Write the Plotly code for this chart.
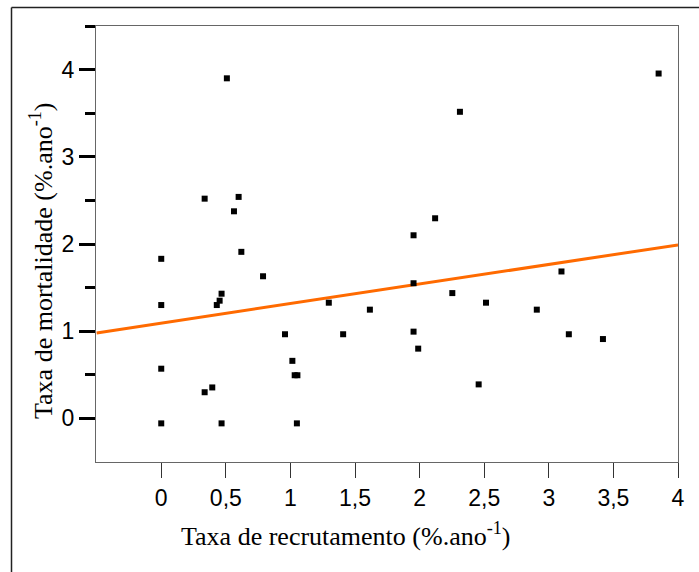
import plotly.graph_objects as go

# Data
recrutamento = [0, 0, 0, 0, 0.336, 0.336, 0.395, 0.43, 0.452, 0.467, 0.467, 0.508,
                0.563, 0.599, 0.62, 0.788, 0.958, 1.015, 1.033, 1.054, 1.05, 1.297,
                1.408, 1.615, 1.953, 1.953, 1.953, 1.989, 2.12, 2.253, 2.312, 2.457,
                2.514, 2.907, 3.098, 3.155, 3.419, 3.85]
mortalidade = [1.83, 1.30, 0.57, -0.057, 2.52, 0.30, 0.355, 1.30, 1.35, 1.43, -0.057, 3.90,
               2.375, 2.54, 1.91, 1.63, 0.965, 0.66, 0.495, 0.495, -0.057, 1.327,
               0.965, 1.247, 2.10, 1.55, 0.995, 0.80, 2.295, 1.437, 3.516, 0.39,
               1.327, 1.247, 1.685, 0.965, 0.91, 3.955]

reg_x = [-0.5, 4.0]
reg_y = [0.98, 1.99]

x_tickvals = [0, 0.5, 1, 1.5, 2, 2.5, 3, 3.5, 4]
x_ticktext = ["0", "0,5", "1", "1,5", "2", "2,5", "3", "3,5", "4"]
y_tickvals = [0, 1, 2, 3, 4]
y_ticktext = ["0", "1", "2", "3", "4"]
y_minorvals = [0.5, 1.5, 2.5, 3.5, 4.5]

fig = go.Figure()
fig.add_trace(go.Scatter(x=reg_x, y=reg_y, mode="lines",
                         line=dict(color="#FF6A00", width=3), showlegend=False))
fig.add_trace(go.Scatter(x=recrutamento, y=mortalidade, mode="markers",
                         marker=dict(symbol="square", size=6, color="black"),
                         showlegend=False))

L, R, T, B = 96, 21, 26, 110
W, H = 699, 572
pw, ph = W - L - R, H - T - B

fig.update_layout(
    width=W, height=H,
    margin=dict(l=L, r=R, t=T, b=B),
    paper_bgcolor="white", plot_bgcolor="white",
    font=dict(family="Liberation Sans, Arial", size=23, color="black"),
    xaxis=dict(range=[-0.505, 4.0], tickmode="array", tickvals=x_tickvals, ticktext=x_ticktext,
               ticks="outside", ticklen=15, tickwidth=1, tickcolor="#333333",
               showline=True, linecolor="#666666", linewidth=1, mirror=True,
               showgrid=False, zeroline=False, tickfont=dict(size=23)),
    yaxis=dict(range=[-0.5, 4.5], tickmode="array", tickvals=y_tickvals, ticktext=y_ticktext,
               ticks="outside", ticklen=16, tickwidth=2.5, tickcolor="black",
               minor=dict(tickmode="array", tickvals=y_minorvals, ticks="outside",
                          ticklen=10, tickwidth=2.5, tickcolor="black"),
               showline=True, linecolor="#666666", linewidth=1, mirror=True,
               showgrid=False, zeroline=False, tickfont=dict(size=23)),
    annotations=[
        dict(text="Taxa de recrutamento (%.ano<sup>-1</sup>)", xref="paper", yref="paper",
             x=(346 - L) / pw, y=(H - B - 534) / ph, showarrow=False,
             xanchor="center", yanchor="middle",
             font=dict(family="Liberation Serif, Times New Roman", size=26, color="black")),
        dict(text="Taxa de mortalidade (%.ano<sup>-1</sup>)", xref="paper", yref="paper",
             x=(41 - L) / pw, y=(H - B - 261) / ph, showarrow=False, textangle=-90,
             xanchor="center", yanchor="middle",
             font=dict(family="Liberation Serif, Times New Roman", size=26, color="black")),
    ],
    shapes=[
        dict(type="line", xref="paper", yref="paper",
             x0=(11.5 - L) / pw, x1=(11.5 - L) / pw, y0=(H - B - 7.5) / ph, y1=-B / ph - 0.01,
             line=dict(color="#222222", width=1.5)),
        dict(type="line", xref="paper", yref="paper",
             x0=(11.5 - L) / pw, x1=(W - L) / pw + 0.01, y0=(H - B - 7.5) / ph, y1=(H - B - 7.5) / ph,
             line=dict(color="#222222", width=1.5)),
    ],
)

fig.write_html("out.html")
